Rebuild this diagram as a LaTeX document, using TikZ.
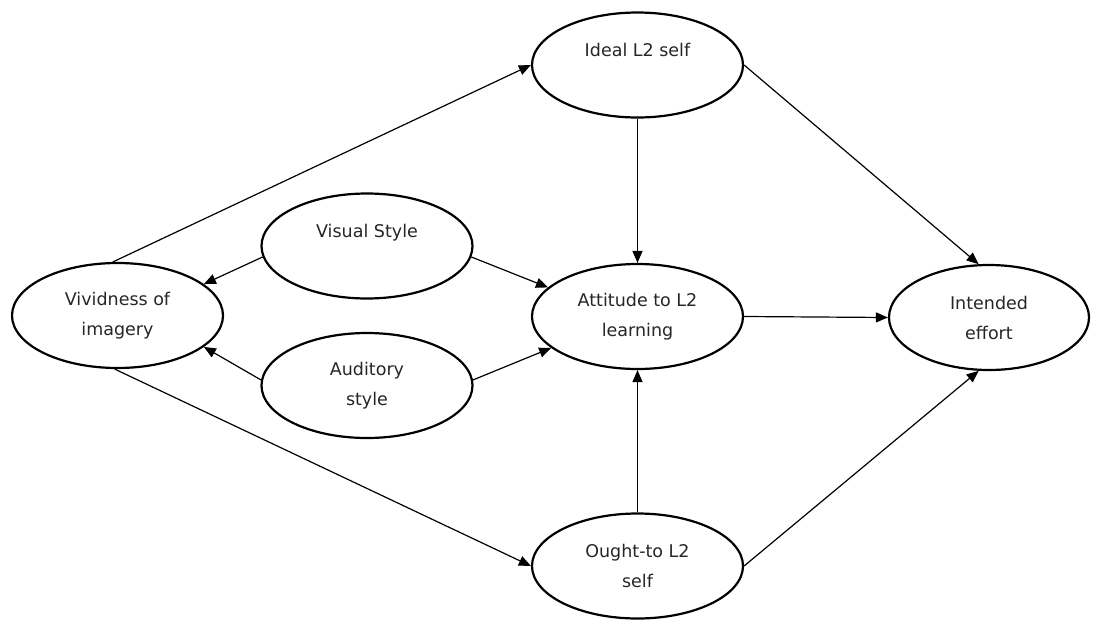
\documentclass[tikz,border=0pt]{standalone}
\usepackage{fontspec}
\setmainfont{DejaVu Sans}
\usetikzlibrary{shapes.geometric,arrows.meta}
\begin{document}
\begin{tikzpicture}[x=1pt,y=-1pt,
  construct/.style={ellipse,draw,line width=2.2pt,minimum width=211pt,
    minimum height=105pt,inner sep=0pt,align=center,
    font=\fontsize{17.5}{30}\selectfont,text=black!85},
  link/.style={line width=1.2pt,-{Triangle[length=12pt,width=10pt]}}]
\useasboundingbox (0,0) rectangle (1093,619);
\clip (0,0) rectangle (1093,619);

% constructs of the model
\node[construct] (ideal)  at (637.5,65)    {Ideal L2 self\\~};
\node[construct] (visual) at (367,246)     {Visual Style\\~};
\node[construct] (aud)    at (367,385.5)   {Auditory\\style};
\node[construct] (viv)    at (117.5,315.5) {Vividness of\\imagery};
\node[construct] (att)    at (637.5,316.5) {Attitude to L2\\learning};
\node[construct,minimum width=200pt] (int) at (989,317.5) {Intended\\effort};
\node[construct] (ought)  at (637.5,566)   {Ought-to L2\\self};

% hypothesised paths
\draw[link] (viv.95)    -- (ideal.west);
\draw[link] (viv.-93)   -- (ought.west);
\draw[link] (visual.186) -- (viv.20);
\draw[link] (aud.177)   -- (viv.-20);
\draw[link] (visual.-6) -- (att.162);
\draw[link] (aud.3)     -- (att.200);
\draw[link] (ideal.south) -- (att.north);
\draw[link] (ought.north) -- (att.south);
\draw[link] (att.east)  -- (int.west);
\draw[link] (ideal.east) -- (int.101);
\draw[link] (ought.east) -- (int.-101);
\end{tikzpicture}
\end{document}
